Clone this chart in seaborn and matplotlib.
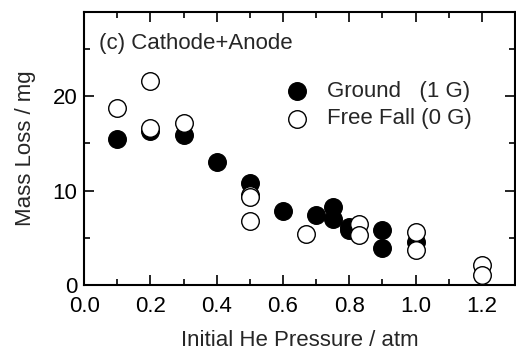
import matplotlib
matplotlib.use("Agg")
import matplotlib.pyplot as plt
import seaborn as sns
import pandas as pd
from matplotlib.ticker import MultipleLocator

sns.set_style("white")
plt.rcParams['font.family'] = ['Liberation Sans', 'DejaVu Sans']

ground_x = [0.1, 0.2, 0.3, 0.4, 0.5, 0.6, 0.7, 0.75, 0.75, 0.8, 0.8, 0.9, 0.9, 1.0]
ground_y = [15.5, 16.3, 15.9, 13.0, 10.8, 7.9, 7.4, 8.3, 7.0, 6.2, 5.8, 5.9, 3.9, 4.6]
free_x = [0.1, 0.2, 0.2, 0.3, 0.5, 0.5, 0.5, 0.67, 0.83, 0.83, 1.0, 1.0, 1.2, 1.2]
free_y = [18.7, 21.6, 16.6, 17.2, 9.5, 9.3, 6.8, 5.4, 6.5, 5.3, 5.6, 3.7, 2.1, 1.1]
labels = ["Ground   (1 G)", "Free Fall (0 G)"]

gdf = pd.DataFrame({"x": ground_x, "y": ground_y})
fdf = pd.DataFrame({"x": free_x, "y": free_y})

fig = plt.figure(figsize=(5.16, 3.51), dpi=100)
ax = fig.add_axes([0.163, 0.187, 0.835, 0.779])

sns.scatterplot(data=gdf, x="x", y="y", ax=ax, s=160, color="black",
                edgecolor="black", linewidth=1, label=labels[0], zorder=3)
sns.scatterplot(data=fdf, x="x", y="y", ax=ax, s=160, color="white",
                edgecolor="black", linewidth=1, label=labels[1], zorder=4)

ax.set_xlim(0, 1.3)
ax.set_ylim(0, 28.9)
ax.xaxis.set_major_locator(MultipleLocator(0.2))
ax.xaxis.set_minor_locator(MultipleLocator(0.1))
ax.yaxis.set_major_locator(MultipleLocator(10))
ax.yaxis.set_minor_locator(MultipleLocator(5))
ax.set_xticks([0, 0.2, 0.4, 0.6, 0.8, 1.0, 1.2])
ax.set_xticklabels(["0.0", "0.2", "0.4", "0.6", "0.8", "1.0", "1.2"])
ax.tick_params(which="both", direction="in", top=True, right=True, bottom=True, left=True,
               width=1.2, labelsize=16, colors="black")
ax.tick_params(which="major", length=7)
ax.tick_params(which="minor", length=4)
ax.tick_params(axis="x", which="major", pad=8)
ax.tick_params(axis="y", which="major", pad=5)
for sp in ax.spines.values():
    sp.set_linewidth(1.5)
    sp.set_color("black")

ax.set_xlabel("Initial He Pressure / atm", fontsize=16, labelpad=9)
ax.set_ylabel("Mass Loss / mg", fontsize=16, labelpad=12)
ax.text(0.035, 0.922, "(c) Cathode+Anode", transform=ax.transAxes, fontsize=16,
        va="top", ha="left")

leg = ax.legend(loc="upper left", bbox_to_anchor=(0.448, 0.781), frameon=False,
                fontsize=16, handlelength=1.0, handletextpad=0.85, labelspacing=0.3,
                borderaxespad=0, borderpad=0.4, markerscale=1.0)

fig.savefig("out.png", dpi=100)
